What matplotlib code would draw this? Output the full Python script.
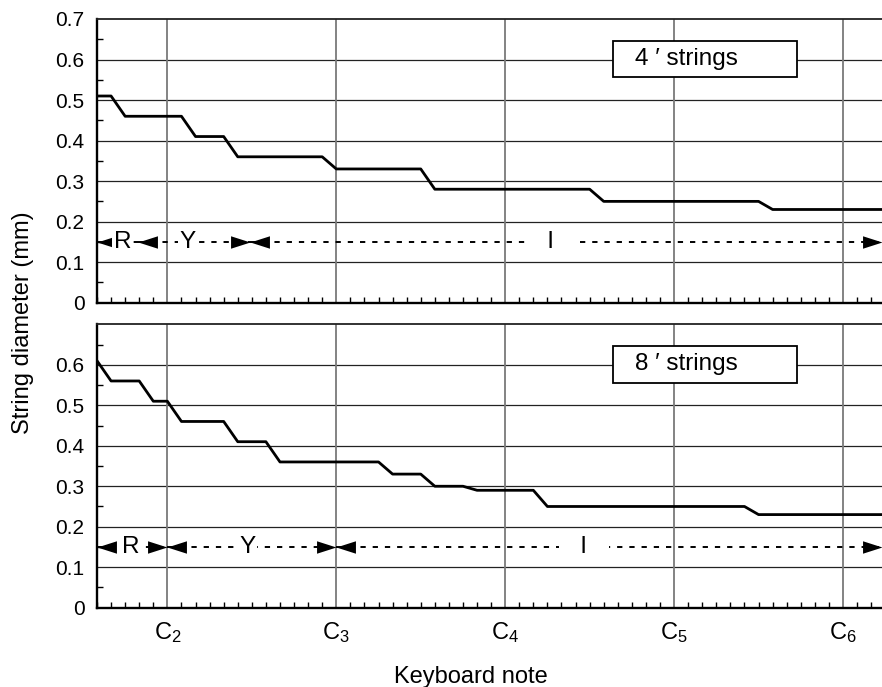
import matplotlib
matplotlib.use('Agg')
import matplotlib.pyplot as plt
from matplotlib.patches import Rectangle

plt.rcParams['font.family'] = ['Liberation Sans', 'DejaVu Sans']
plt.rcParams['mathtext.fontset'] = 'custom'
plt.rcParams['mathtext.rm'] = 'Liberation Sans'
plt.rcParams['mathtext.it'] = 'Liberation Sans:italic'
plt.rcParams['lines.scale_dashes'] = False

# notes counted in semitones from C2 (G1 = -5)
c_notes = [0, 12, 24, 36, 48]
c_labels = ['C$_2$', 'C$_3$', 'C$_4$', 'C$_5$', 'C$_6$']

# 4' strings: plateaus (first note, last note, diameter in mm)
top_first = [-5, -3, 2, 5, 12, 19, 31, 43]
top_last = [-4, 1, 4, 11, 18, 30, 42, 51]
top_diam = [0.51, 0.46, 0.41, 0.36, 0.33, 0.28, 0.25, 0.23]

# 8' strings
bot_first = [-5, -4, -1, 1, 5, 8, 16, 19, 22, 27, 42]
bot_last = [-5, -2, 0, 4, 7, 15, 18, 21, 26, 41, 51]
bot_diam = [0.61, 0.56, 0.51, 0.46, 0.41, 0.36, 0.33, 0.30, 0.29, 0.25, 0.23]

# maker regions (R, Y, I) along the keyboard
top_bounds = [-5, -2.1, 5.85, 50.77]
top_label_x = [-3.2, 1.4, 27.2]
bot_bounds = [-5, 0, 12, 50.77]
bot_label_x = [-2.6, 5.7, 29.6]
region_names = ['R', 'Y', '   I   ']

XMIN, XMAX = -5, 50.77
ARROW_Y = 0.15

fig = plt.figure(figsize=(8.82, 6.87), dpi=100)
ax_top = fig.add_axes([97 / 882, 1 - 302.7 / 687, 785 / 882, 283.7 / 687])
ax_bot = fig.add_axes([97 / 882, 1 - 607.7 / 687, 785 / 882, 283.4 / 687])

head_r = [(0, 0), (-1, 0.32), (-1, -0.32), (0, 0)]
head_l = [(0, 0), (1, 0.32), (1, -0.32), (0, 0)]


def steps(first, last, diam):
    xs, ys = [], []
    for a, b, d in zip(first, last, diam):
        xs += [a, b]
        ys += [d, d]
    return xs, ys


def regions(ax, bounds, label_x, top_style):
    for i in range(3):
        x0, x1 = bounds[i], bounds[i + 1]
        ax.plot([x0, x1], [ARROW_Y, ARROW_Y], color='k', lw=1.4,
                dashes=(3.8, 5.0), zorder=4)
        ax.plot([x0], [ARROW_Y], marker=head_l, ms=28, color='k', mew=0,
                zorder=5, clip_on=False)
        if not (top_style and i == 0):
            ax.plot([x1], [ARROW_Y], marker=head_r, ms=28, color='k', mew=0,
                    zorder=5, clip_on=False)
        ax.text(label_x[i], ARROW_Y, region_names[i], ha='center', va='center',
                fontsize=17.5, zorder=6,
                bbox=dict(fc='white', ec='none', pad=1.0))


def style(ax, yticks):
    ax.set_xlim(XMIN, XMAX)
    ax.set_ylim(0, 0.7)
    ax.set_yticks(yticks)
    ax.set_yticklabels(['0' if v == 0 else '%.1f' % v for v in yticks])
    ax.set_yticks([v * 0.1 + 0.05 for v in range(7)], minor=True)
    ax.set_xticks(c_notes)
    ax.set_xticks(range(-5, 51), minor=True)
    ax.tick_params(which='major', length=0, labelsize=15, pad=9)
    ax.tick_params(axis='x', which='major', labelsize=17, pad=9)
    ax.tick_params(which='minor', direction='in', length=4, width=1, color='k')
    for v in [0.1, 0.2, 0.3, 0.4, 0.5, 0.6]:
        ax.axhline(v, color='#222222', lw=0.9, zorder=1)
    for c in c_notes:
        ax.axvline(c, color='#7a7a7a', lw=1.3, zorder=1)
    ax.spines['right'].set_visible(False)
    for s in ['left', 'bottom']:
        ax.spines[s].set_linewidth(1.7)
    ax.spines['top'].set_linewidth(1.3)
    ax.spines['top'].set_color('#222222')


style(ax_top, [0, 0.1, 0.2, 0.3, 0.4, 0.5, 0.6, 0.7])
style(ax_bot, [0, 0.1, 0.2, 0.3, 0.4, 0.5, 0.6])
ax_top.set_xticklabels([])
ax_bot.set_xticklabels(c_labels)

x, y = steps(top_first, top_last, top_diam)
ax_top.plot(x, y, color='k', lw=2.0, zorder=3)
x, y = steps(bot_first, bot_last, bot_diam)
ax_bot.plot(x, y, color='k', lw=2.0, zorder=3)

regions(ax_top, top_bounds, top_label_x, True)
regions(ax_bot, bot_bounds, bot_label_x, False)

for ax, txt in [(ax_top, '4 \u2032 strings'), (ax_bot, '8 \u2032 strings')]:
    ax.add_patch(Rectangle((31.64, 0.556), 13.06, 0.09, fc='white', ec='k',
                           lw=1.3, zorder=4))
    ax.text(33.25, 0.601, txt, ha='left', va='center', fontsize=17.5, zorder=5)

fig.text(23 / 882, 1 - 323 / 687, 'String diameter (mm)', rotation=90,
         ha='center', va='center', fontsize=17)
fig.text(471 / 882, 1 - 683.5 / 687, 'Keyboard note', ha='center',
         va='baseline', fontsize=17)

fig.savefig('out.png', dpi=100)
